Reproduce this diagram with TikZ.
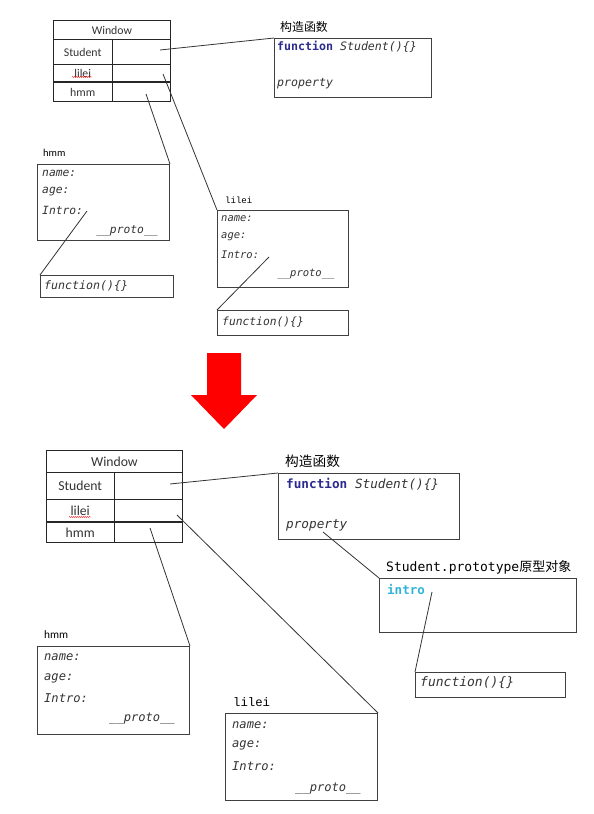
\documentclass[tikz,border=0pt]{standalone}
\usepackage{fontspec}
\setmainfont{Carlito}
\newfontfamily\codefont{DejaVu Sans Mono}
\newfontfamily\courfont{Liberation Mono}
\newfontfamily\cjkfont{Noto Sans CJK SC}
\usetikzlibrary{decorations.pathmorphing}

\definecolor{linegray}{HTML}{404040}
\definecolor{txtgray}{HTML}{333333}
\definecolor{kwblue}{HTML}{2B2B8E}
\definecolor{introcyan}{HTML}{2FB4D8}
\definecolor{arrowred}{HTML}{FF0000}

\tikzset{
  cell/.style={draw=black!85, line width=0.9pt, anchor=north west, inner sep=0pt, text=txtgray},
  objbox/.style={draw=linegray, line width=1pt, anchor=north west, inner sep=0pt},
  field/.style={anchor=west, inner sep=0pt, text=txtgray, font=\codefont\itshape\fontsize{#1}{#1}\selectfont},
  title/.style={anchor=west, inner sep=0pt, text=black},
  link/.style={draw=black!80, line width=0.8pt},
  squiggle/.style={draw=red, line width=0.4pt, decorate, decoration={snake, amplitude=0.5pt, segment length=2pt}},
}

\begin{document}
\begin{tikzpicture}[x=1pt, y=-1pt]
    \useasboundingbox (0,0) rectangle (594,814);

    % ---------- before ----------
    % Window table
    \begin{scope}[every node/.append style={font=\fontsize{11.8}{12}\selectfont}]
    \node[cell, minimum width=117pt, minimum height=19pt] (tWin) at (53,20) {Window};
    \node[cell, minimum width=58.5pt, minimum height=25pt] (tStuK) at (53,39) {Student};
    \node[cell, minimum width=58.5pt, minimum height=25pt] (tStuV) at (111.5,39) {};
    \node[cell, minimum width=58.5pt, minimum height=18pt] (tLileiK) at (53,64) {lilei};
    \node[cell, minimum width=58.5pt, minimum height=18pt] (tLileiV) at (111.5,64) {};
    \node[cell, minimum width=58.5pt, minimum height=19pt] (tHmmK) at (53,82) {hmm};
    \node[cell, minimum width=58.5pt, minimum height=19pt] (tHmmV) at (111.5,82) {};
    \end{scope}
    \draw[black!85, line width=1.6pt] (tHmmK.north west) -- (tHmmV.north east);
    \draw[squiggle] (72,77) -- (92,77);

    % constructor
    \node[title, font=\cjkfont\fontsize{11.9}{12}\selectfont] (tCtorLbl) at (280,27) {构造函数};
    \node[objbox, minimum width=157pt, minimum height=59pt] (tCtor) at (274,38) {};
    \node[field=11.6, text=kwblue] (tCtorFn) at (277,47) {\upshape\bfseries function {\color{txtgray}\mdseries\itshape Student()\{\}}};
    \node[field=11.6] (tCtorProp) at (277,84) {property};

    % hmm object
    \node[title, font=\fontsize{10.5}{11}\selectfont] (tHmmLbl) at (43,153) {hmm};
    \node[objbox, minimum width=132pt, minimum height=76pt] (tHmm) at (37,164) {};
    \node[field=11.3] (tHmmName) at (42,173) {name:};
    \node[field=11.3] (tHmmAge) at (42,192) {age:};
    \node[field=11.3] (tHmmIntro) at (42,210) {Intro:};
    \node[field=11.3, anchor=center] (tHmmProto) at (127,231) {\_\_proto\_\_};
    \node[objbox, minimum width=133pt, minimum height=22pt] (tHmmFnBox) at (40,275) {};
    \node[field=11.6] (tHmmFn) at (44,286) {function()\{\}};

    % lilei object
    \node[title, font=\courfont\fontsize{9}{10}\selectfont] (tLileiLbl) at (225,200) {lilei};
    \node[objbox, minimum width=131pt, minimum height=77pt] (tLilei) at (217,210) {};
    \node[field=10.5] (tLileiName) at (221,219) {name:};
    \node[field=10.5] (tLileiAge) at (221,237) {age:};
    \node[field=10.5] (tLileiIntro) at (221,255) {Intro:};
    \node[field=10.5, anchor=center] (tLileiProto) at (306,274) {\_\_proto\_\_};
    \node[objbox, minimum width=131pt, minimum height=25pt] (tLileiFnBox) at (217,310) {};
    \node[field=11.3] (tLileiFn) at (222,322) {function()\{\}};

    % connectors
    \coordinate (tStuIn) at (160,50);
    \coordinate (tLileiIn) at (163,74);
    \coordinate (tHmmIn) at (146,94);
    \coordinate (tHmmIntroEnd) at (87,211);
    \coordinate (tLileiIntroEnd) at (269,257);
    \draw[link] (tStuIn) -- (tCtor.north west);
    \draw[link] (tLileiIn) -- (tLilei.north west);
    \draw[link] (tHmmIn) -- (tHmm.north east);
    \draw[link] (tHmmIntroEnd) -- (tHmmFnBox.north west);
    \draw[link] (tLileiIntroEnd) -- (tLileiFnBox.north west);

    % ---------- arrow ----------
    \fill[arrowred] (207,353) -- (241,353) -- (241,395) -- (257,395) -- (224,429)
        -- (191,395) -- (207,395) -- cycle;

    % ---------- after ----------
    % Window table
    \begin{scope}[every node/.append style={font=\fontsize{13.7}{14}\selectfont}]
    \node[cell, minimum width=136pt, minimum height=22pt] (bWin) at (46,450) {Window};
    \node[cell, minimum width=67.5pt, minimum height=27pt] (bStuK) at (46,472) {Student};
    \node[cell, minimum width=68.5pt, minimum height=27pt] (bStuV) at (113.5,472) {};
    \node[cell, minimum width=67.5pt, minimum height=23pt] (bLileiK) at (46,499) {lilei};
    \node[cell, minimum width=68.5pt, minimum height=23pt] (bLileiV) at (113.5,499) {};
    \node[cell, minimum width=67.5pt, minimum height=20pt] (bHmmK) at (46,522) {hmm};
    \node[cell, minimum width=68.5pt, minimum height=20pt] (bHmmV) at (113.5,522) {};
    \end{scope}
    \draw[black!85, line width=1.7pt] (bHmmK.north west) -- (bHmmV.north east);
    \draw[squiggle] (69,517) -- (91,517);

    % constructor
    \node[title, font=\cjkfont\fontsize{13.7}{14}\selectfont] (bCtorLbl) at (285,461) {构造函数};
    \node[objbox, minimum width=181pt, minimum height=66pt] (bCtor) at (278,473) {};
    \node[field=12.7, text=kwblue] (bCtorFn) at (286,484) {\upshape\bfseries function {\color{txtgray}\mdseries\itshape Student()\{\}}};
    \node[field=12.7] (bCtorProp) at (286,525) {property};

    % prototype
    \node[title, font=\codefont\fontsize{13}{14}\selectfont] (bProtoLbl) at (386,567) {Student.prototype{\cjkfont 原型对象}};
    \node[objbox, minimum width=197pt, minimum height=54pt] (bProto) at (379,578) {};
    \node[field=12.5, text=introcyan] (bIntro) at (387,589) {\upshape\bfseries intro};
    \node[objbox, minimum width=150pt, minimum height=25pt] (bFnBox) at (415,672) {};
    \node[field=13] (bFn) at (420,683) {function()\{\}};

    % hmm object
    \node[title, font=\fontsize{11.3}{12}\selectfont] (bHmmLbl) at (44,635) {hmm};
    \node[objbox, minimum width=152pt, minimum height=88pt] (bHmm) at (37,646) {};
    \node[field=12.1] (bHmmName) at (44,657) {name:};
    \node[field=12.1] (bHmmAge) at (44,678) {age:};
    \node[field=12.1] (bHmmIntro) at (44,698) {Intro:};
    \node[field=12.1, anchor=center] (bHmmProto) at (142,719) {\_\_proto\_\_};

    % lilei object
    \node[title, font=\courfont\fontsize{12.3}{13}\selectfont] (bLileiLbl) at (233,702) {lilei};
    \node[objbox, minimum width=152pt, minimum height=87pt] (bLilei) at (225,713) {};
    \node[field=12.1] (bLileiName) at (232,725) {name:};
    \node[field=12.1] (bLileiAge) at (232,745) {age:};
    \node[field=12.1] (bLileiIntro) at (232,766) {Intro:};
    \node[field=12.1, anchor=center] (bLileiProto) at (328,789) {\_\_proto\_\_};

    % connectors
    \coordinate (bStuIn) at (170,484);
    \coordinate (bLileiIn) at (177,515);
    \coordinate (bHmmIn) at (150,528);
    \coordinate (bPropEnd) at (323,532);
    \coordinate (bIntroEnd) at (432,592);
    \draw[link] (bStuIn) -- (bCtor.north west);
    \draw[link] (bLileiIn) -- (bLilei.north east);
    \draw[link] (bHmmIn) -- (bHmm.north east);
    \draw[link] (bPropEnd) -- (bProto.north west);
    \draw[link] (bIntroEnd) -- (bFnBox.north west);
\end{tikzpicture}
\end{document}
